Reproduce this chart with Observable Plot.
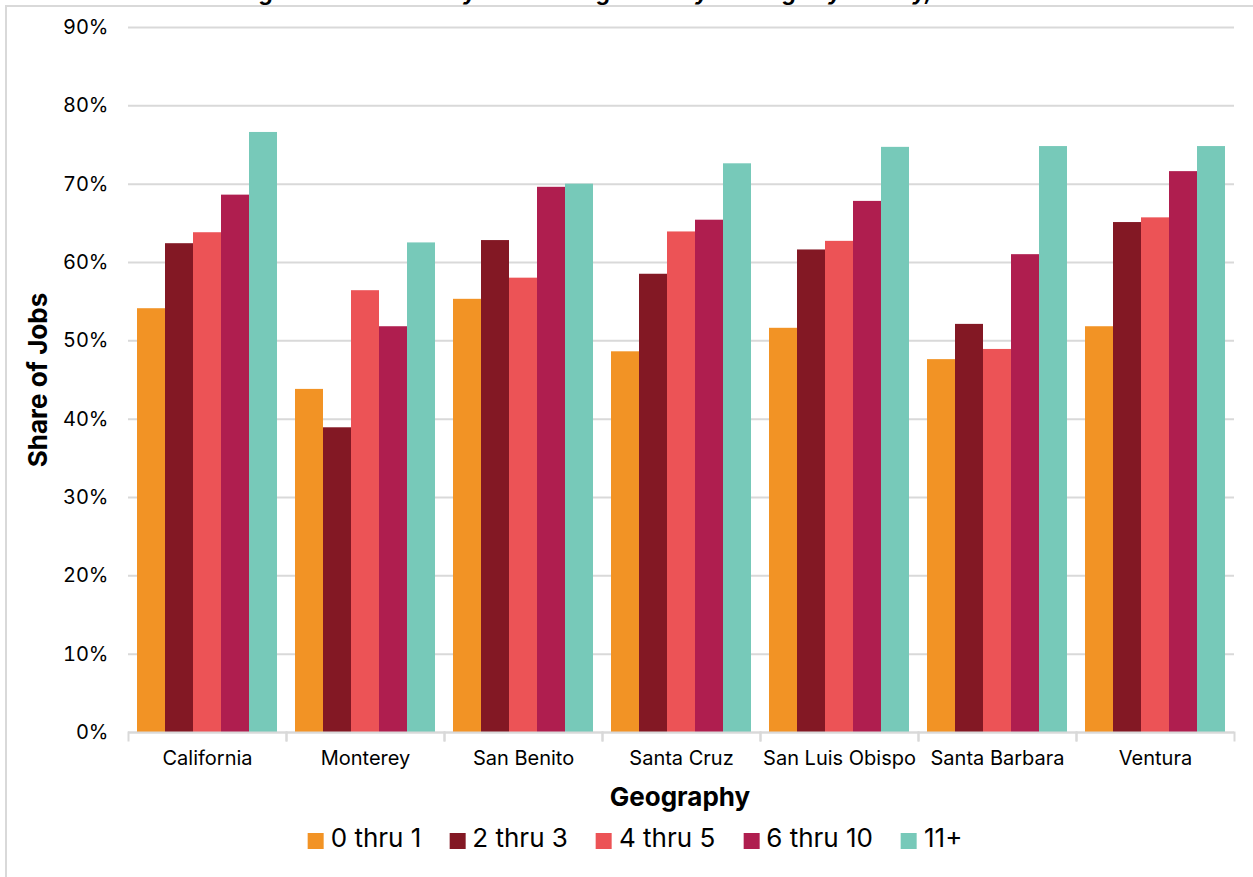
<!DOCTYPE html>
<html>
<head>
<meta charset="utf-8">
<script src="https://cdn.jsdelivr.net/npm/d3@7"></script>
<script src="https://cdn.jsdelivr.net/npm/@observablehq/plot@0.6"></script>
<style>
  html, body { margin: 0; padding: 0; background: #fff; overflow: hidden; }
  #wrap { position: relative; width: 1253px; height: 877px; overflow: hidden; font-family: Inter, "Noto Sans", sans-serif; color: #000; }
  #border { position: absolute; left: 5px; top: 5px; width: 1300px; height: 950px; border: 2px solid #d9d9d9; box-sizing: border-box; pointer-events: none; }
  #chart { position: absolute; left: 0; top: 0; }
  #title { position: absolute; left: 617px; top: -19px; transform: translateX(-50%); white-space: nowrap; font-size: 22px; line-height: 1; font-weight: 700; font-style: italic; }
  #ylabel { position: absolute; left: 38px; top: 380px; transform: translate(-50%, -50%) rotate(-90deg); white-space: nowrap; font-size: 26px; line-height: 1; font-weight: 700; }
  #xlabel { position: absolute; left: 680px; top: 784px; transform: translateX(-50%); white-space: nowrap; font-size: 26px; line-height: 1; font-weight: 700; }
  #legend { position: absolute; left: 635px; top: 825px; transform: translateX(-50%); display: flex; align-items: center; white-space: nowrap; font-size: 26px; line-height: 1; }
  .item { display: flex; align-items: center; margin: 0 14px; }
  .sw { width: 16px; height: 16px; margin-right: 7px; margin-top: 6px; }
</style>
</head>
<body>
<div id="wrap">
  <div id="chart"></div>
  <div id="border"></div>
  <div id="title">Figure 4: Job Stability Rate among Firms by Firm Age by County, 2022</div>
  <div id="ylabel">Share of Jobs</div>
  <div id="xlabel">Geography</div>
  <div id="legend"></div>
</div>
<script>
// Geographies along the x axis
const geographies = ["California", "Monterey", "San Benito", "Santa Cruz", "San Luis Obispo", "Santa Barbara", "Ventura"];

// Firm age classes (series) and their colours
const ageClasses = ["0 thru 1", "2 thru 3", "4 thru 5", "6 thru 10", "11+"];
const ageColors = ["#F29325", "#831824", "#EC5356", "#AF1E4F", "#77C9B9"];

// Share of jobs (%) per geography, one array per firm age class
const share0to1  = [54.1, 43.8, 55.3, 48.6, 51.6, 47.6, 51.8];
const share2to3  = [62.4, 38.9, 62.8, 58.5, 61.6, 52.1, 65.1];
const share4to5  = [63.8, 56.4, 58.0, 63.9, 62.7, 48.9, 65.7];
const share6to10 = [68.6, 51.8, 69.6, 65.4, 67.8, 61.0, 71.6];
const share11up  = [76.6, 62.5, 70.0, 72.6, 74.7, 74.8, 74.8];

// Y axis ticks (percent)
const yTicks = [0, 10, 20, 30, 40, 50, 60, 70, 80, 90];

const seriesValues = [share0to1, share2to3, share4to5, share6to10, share11up];
const rows = [];
geographies.forEach((geo, gi) => {
  ageClasses.forEach((cls, si) => {
    rows.push({geo, cls, value: seriesValues[si][gi]});
  });
});

const gridColor = "#d9d9d9";

const chart = Plot.plot({
  width: 1253,
  height: 790,
  marginLeft: 126,
  marginRight: 17,
  marginTop: 27,
  marginBottom: 58,
  style: {fontFamily: "Inter, 'Noto Sans', sans-serif", fontSize: "20px", color: "#000", background: "transparent"},
  fx: {domain: geographies, padding: 0, label: null, tickSize: 0, tickPadding: 18},
  x: {domain: ageClasses, axis: null, paddingInner: 0, paddingOuter: 0.312},
  y: {domain: [0, 90], ticks: yTicks, tickFormat: d => d + "%", tickSize: 0, tickPadding: 20, label: null},
  color: {domain: ageClasses, range: ageColors},
  marks: [
    Plot.gridY(yTicks, {stroke: gridColor, strokeOpacity: 1, strokeWidth: 2}),
    Plot.barY(rows, {fx: "geo", x: "cls", y: "value", fill: "cls"}),
    Plot.ruleY([0], {stroke: gridColor, strokeWidth: 2}),
    // category boundary ticks below the baseline
    Plot.frame({anchor: "left", stroke: gridColor, strokeWidth: 2, insetTop: 705, insetBottom: -8}),
    Plot.frame({anchor: "right", stroke: gridColor, strokeWidth: 2, insetTop: 705, insetBottom: -8})
  ]
});
document.getElementById("chart").appendChild(chart);

// Legend
const legend = document.getElementById("legend");
ageClasses.forEach((cls, i) => {
  const item = document.createElement("div");
  item.className = "item";
  const sw = document.createElement("span");
  sw.className = "sw";
  sw.style.background = ageColors[i];
  const label = document.createElement("span");
  label.textContent = cls;
  item.appendChild(sw);
  item.appendChild(label);
  legend.appendChild(item);
});
</script>
</body>
</html>
